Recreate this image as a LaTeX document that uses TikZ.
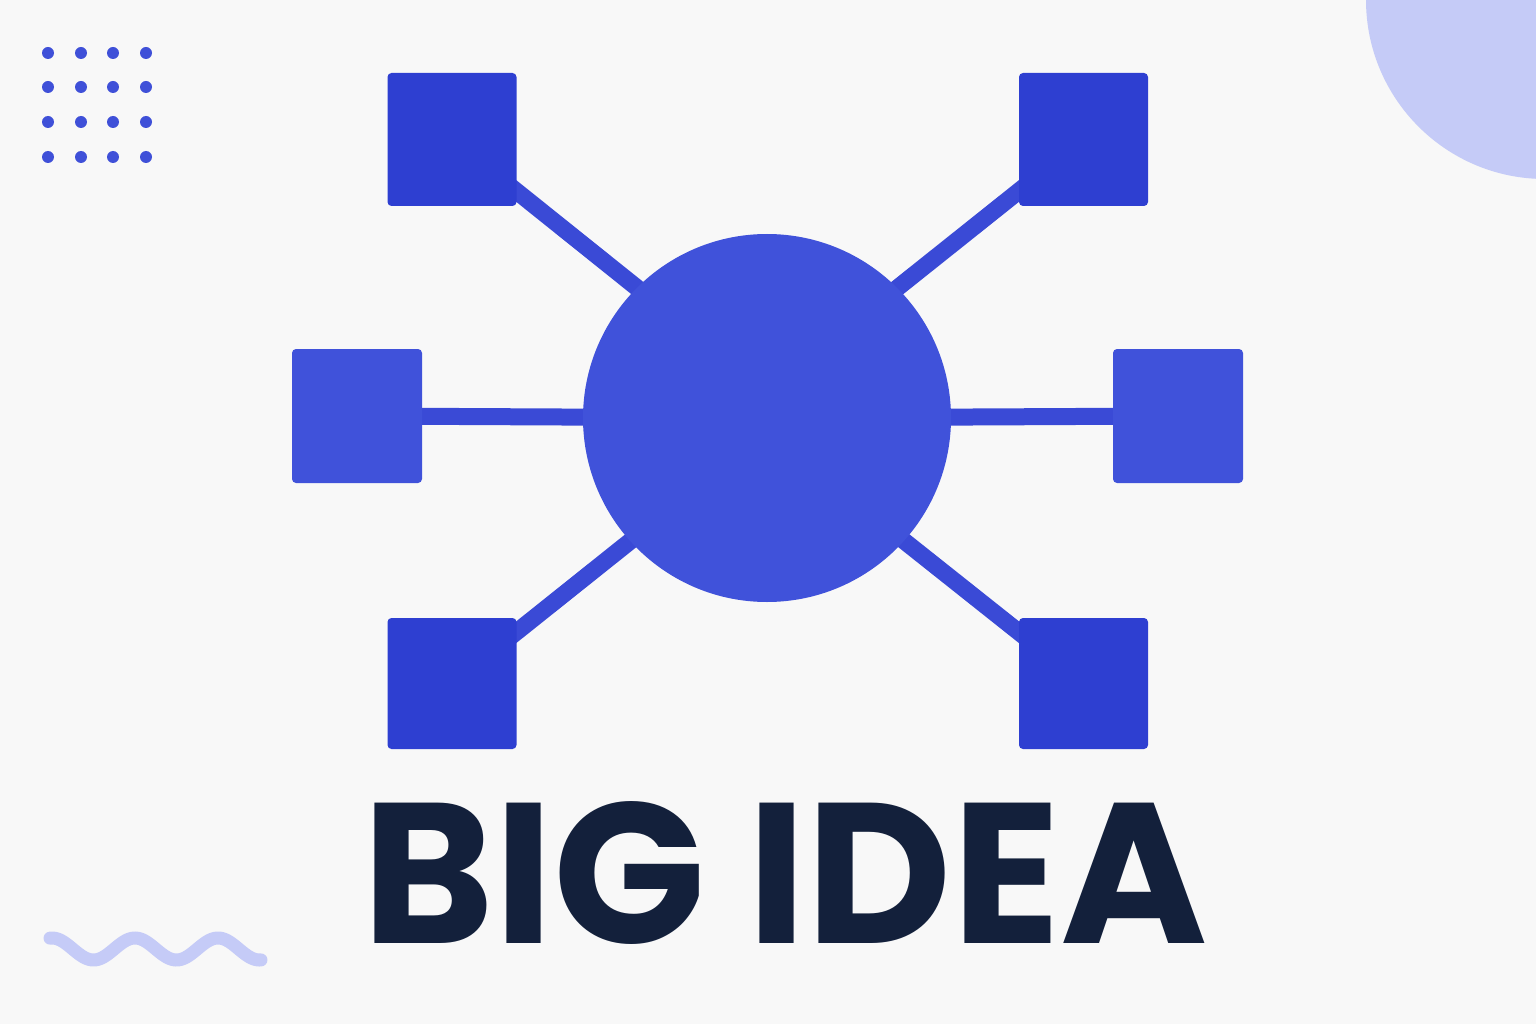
\documentclass[tikz,border=0pt]{standalone}
\usepackage{fontspec}
\setmainfont{Poppins}
\usetikzlibrary{backgrounds}
\definecolor{bgcol}{HTML}{F8F8F8}
\definecolor{hubblue}{HTML}{4052DA}
\definecolor{boxblue}{HTML}{2E3FD1}
\definecolor{linkblue}{HTML}{3A4AD6}
\definecolor{dotblue}{HTML}{3F50D8}
\definecolor{paleblue}{HTML}{C5CBF7}
\definecolor{inkblue}{HTML}{13203B}

\begin{document}
\begin{tikzpicture}[x=1pt,y=-1pt,
    hub/.style={circle,fill=hubblue,minimum size=368pt,inner sep=0pt},
    box/.style={rectangle,rounded corners=4pt,minimum width=129pt,minimum height=133pt,inner sep=0pt},
    link/.style={line width=17pt,linkblue}]
        %背景;
        \begin{pgfonlayer}{background}
        \fill [bgcol] (0,0) rectangle (1536,1024);
        \end{pgfonlayer}
        \useasboundingbox (0,0) rectangle (1536,1024);
        \clip (0,0) rectangle (1536,1024);
        %右上角圆
        \fill [paleblue] (1545,0) circle (179);
        %左上角点阵
        \foreach \x in {48,81,113,146}
            \foreach \y in {53,87,122,157}
                \fill [dotblue] (\x,\y) circle (6);
        %波浪线
        \draw [paleblue,line width=13pt,line cap=round]
            plot[domain=50:261,samples=120,smooth] (\x,{949-11*cos((\x-52)/83*360)});
        %中心圆和方块
        \node[hub] (hub) at (767,418) {};
        \node[box,fill=boxblue] (tl) at (452,139.5) {};
        \node[box,fill=boxblue] (tr) at (1083.5,139.5) {};
        \node[box,fill=hubblue,minimum width=130pt,minimum height=134pt] (ml) at (357,416) {};
        \node[box,fill=hubblue,minimum width=130pt,minimum height=134pt] (mr) at (1178,416) {};
        \node[box,fill=boxblue,minimum height=131pt] (bl) at (452,683.5) {};
        \node[box,fill=boxblue,minimum height=131pt] (br) at (1083.5,683.5) {};
        %连线
        \begin{pgfonlayer}{background}
        \draw [link] (tl.center) -- ([yshift=26pt]hub.center);
        \draw [link] (tr.center) -- ([yshift=26pt]hub.center);
        \draw [link] (ml.center) -- (hub.center);
        \draw [link] (mr.center) -- (hub.center);
        \draw [link] (bl.center) -- ([yshift=-14pt]hub.center);
        \draw [link] (br.center) -- ([yshift=-14pt]hub.center);
        \end{pgfonlayer}
        %标题
        \node[font=\bfseries\fontsize{200}{200}\selectfont,text=inkblue,anchor=base,inner sep=0pt] (title) at (785,943) {BIG IDEA};
    \end{tikzpicture}
\end{document}
